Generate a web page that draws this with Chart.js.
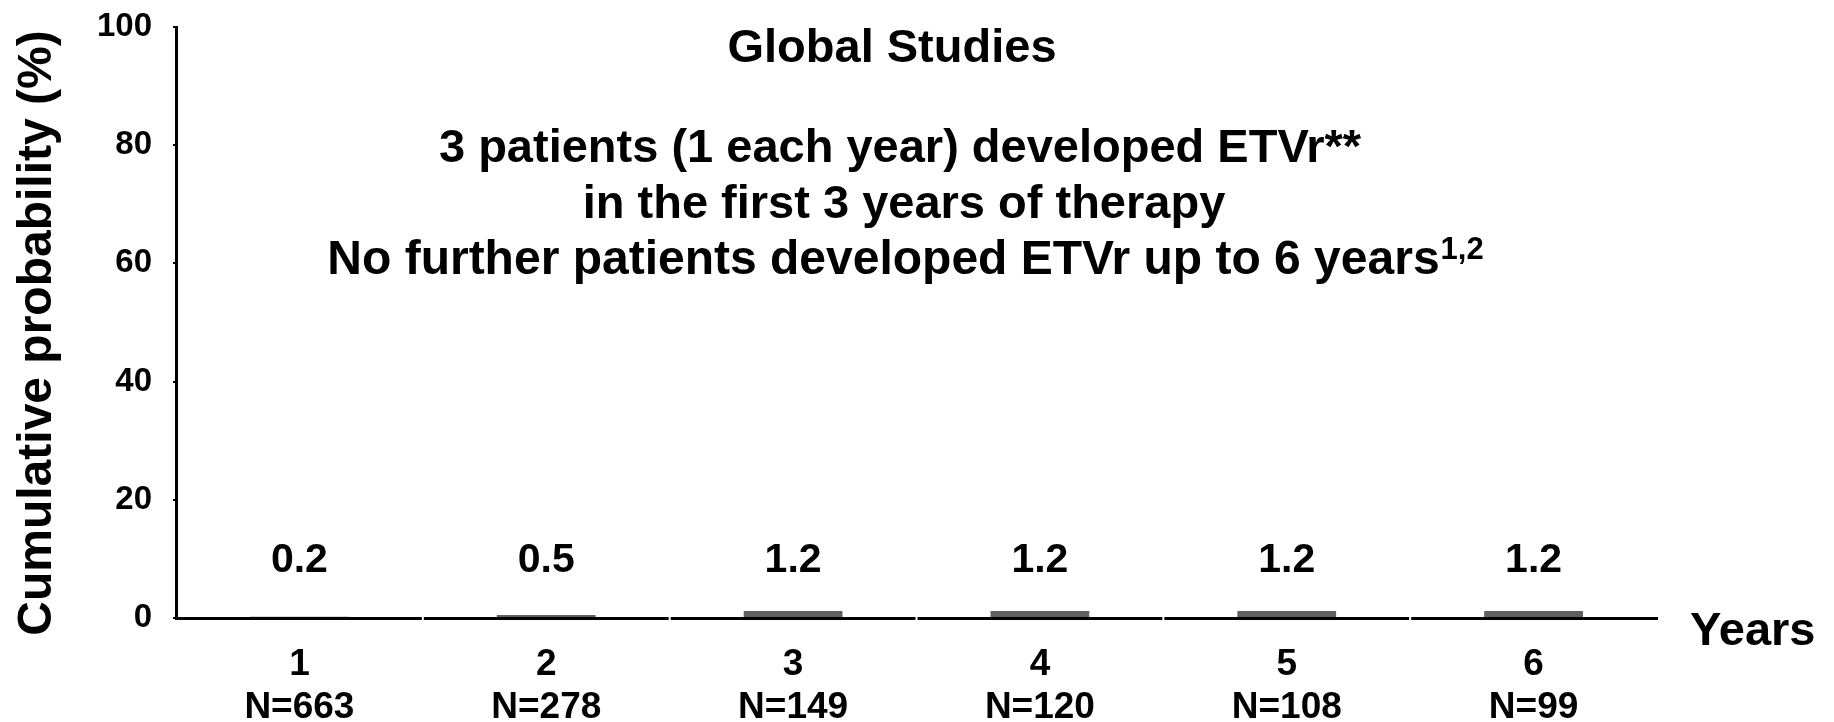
<!DOCTYPE html>
<html>
<head>
<meta charset="utf-8">
<script src="https://cdn.jsdelivr.net/npm/chart.js@4.4.1/dist/chart.umd.min.js"></script>
<style>
  html, body { margin: 0; padding: 0; background: #fff; }
</style>
</head>
<body>
<canvas id="etvChart" width="1834" height="722"></canvas>
<script>
// Data
const years = ['1', '2', '3', '4', '5', '6'];
const patientsAtRisk = ['N=663', 'N=278', 'N=149', 'N=120', 'N=108', 'N=99'];
const cumulativeProb = [0.2, 0.5, 1.2, 1.2, 1.2, 1.2];
const yMin = 0, yMax = 100, yStep = 20;

const titleText = 'Global Studies';
const yTitle = 'Cumulative probability (%)';
const noteLines = [
    '3 patients (1 each year) developed ETVr**',
    'in the first 3 years of therapy',
    'No further patients developed ETVr up to 6 years'
];
const noteSup = '1,2';

const FONT = 'Arial, "Liberation Sans", sans-serif';

// Texts drawn on top of the chart: value labels, headline, notes, axis names
const textPlugin = {
    id: 'textPlugin',
    afterDraw(chart) {
        const ctx = chart.ctx;
        const area = chart.chartArea;
        const xs = chart.scales.x, ys = chart.scales.y;
        ctx.save();

        // small white breaks in the x axis between the years
        ctx.strokeStyle = '#fff';
        ctx.lineWidth = 2;
        for (let i = 1; i < years.length; i++) {
            const px = (xs.getPixelForValue(i - 1) + xs.getPixelForValue(i)) / 2;
            ctx.beginPath();
            ctx.moveTo(px, area.bottom - 3);
            ctx.lineTo(px, area.bottom + 3);
            ctx.stroke();
        }

        ctx.fillStyle = '#000';
        ctx.textAlign = 'center';
        ctx.textBaseline = 'alphabetic';

        // values above the bars
        ctx.font = 'bold 41px ' + FONT;
        chart.getDatasetMeta(0).data.forEach((bar, i) => {
            ctx.fillText(cumulativeProb[i].toFixed(1), bar.x, ys.getPixelForValue(0) - 46);
        });

        // headline + notes
        ctx.font = 'bold 47px ' + FONT;
        ctx.fillText(titleText, 892, 62);
        ctx.fillText(noteLines[0], 900, 162);
        ctx.fillText(noteLines[1], 904, 218);

        // last line with superscript refs
        ctx.font = 'bold 48px ' + FONT;
        const w1 = ctx.measureText(noteLines[2]).width;
        ctx.font = 'bold 31px ' + FONT;
        const w2 = ctx.measureText(noteSup).width;
        const start = 905 - (w1 + w2) / 2;
        ctx.textAlign = 'left';
        ctx.font = 'bold 48px ' + FONT;
        ctx.fillText(noteLines[2], start, 274);
        ctx.font = 'bold 31px ' + FONT;
        ctx.fillText(noteSup, start + w1 + 1, 259);

        // x axis name, right of the axis
        ctx.font = 'bold 47px ' + FONT;
        ctx.fillText('Years', area.right + 33, area.bottom + 27);

        // y axis name, rotated
        ctx.translate(38, 333);
        ctx.rotate(-Math.PI / 2);
        ctx.textAlign = 'center';
        ctx.textBaseline = 'middle';
        ctx.font = 'bold 48px ' + FONT;
        ctx.fillText(yTitle, 0, 0);

        ctx.restore();
    }
};

const ctx = document.getElementById('etvChart').getContext('2d');
new Chart(ctx, {
    type: 'bar',
    data: {
        labels: years.map((y, i) => [y, patientsAtRisk[i]]),
        datasets: [{
            data: cumulativeProb,
            backgroundColor: '#606060',
            borderWidth: 0,
            barPercentage: 0.4,
            categoryPercentage: 1.0
        }]
    },
    options: {
        responsive: false,
        animation: false,
        devicePixelRatio: 1,
        layout: {
            autoPadding: false,
            padding: { top: 27, right: 177, bottom: 0, left: 0 }
        },
        plugins: {
            legend: { display: false },
            tooltip: { enabled: false }
        },
        scales: {
            x: {
                z: 1,
                grid: { display: false, drawTicks: false },
                border: { display: true, color: '#000', width: 3 },
                ticks: {
                    color: '#000',
                    padding: 25,
                    maxRotation: 0,
                    font: { family: FONT, size: 37, weight: 'bold', lineHeight: 1.17 }
                },
                afterFit(scale) {
                    scale.height = 104;
                    scale.paddingLeft = 0;
                    scale.paddingRight = 0;
                }
            },
            y: {
                min: yMin,
                max: yMax,
                z: 1,
                grid: { drawOnChartArea: false, drawTicks: true, tickLength: 3, color: '#000', lineWidth: 2 },
                border: { display: true, color: '#000', width: 3 },
                ticks: {
                    stepSize: yStep,
                    color: '#000',
                    padding: 21,
                    font: { family: FONT, size: 33, weight: 'bold' }
                },
                afterFit(scale) {
                    scale.width = 176;
                    scale.paddingTop = 0;
                    scale.paddingBottom = 0;
                }
            }
        }
    },
    plugins: [textPlugin]
});
</script>
</body>
</html>
